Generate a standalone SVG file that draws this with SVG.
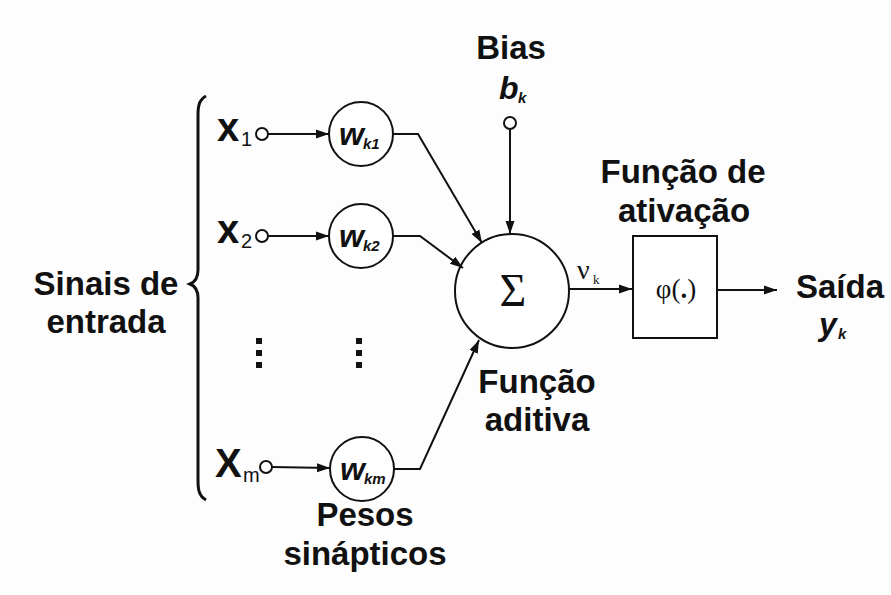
<svg xmlns="http://www.w3.org/2000/svg" width="891" height="595" viewBox="0 0 891 595">
<defs>
<marker id="arr" markerUnits="userSpaceOnUse" markerWidth="14" markerHeight="12" refX="13" refY="6" orient="auto">
<path d="M0,1.5 L13,6 L0,10.5 Z" fill="#111"/>
</marker>
<style>
.lbl{font-family:"Liberation Sans",Arial,sans-serif;font-weight:bold;font-size:33px;fill:#111;text-anchor:middle}
.var{font-family:"Liberation Sans",Arial,sans-serif;font-weight:bold;font-size:40px;fill:#111}
.sub{font-family:"Liberation Sans",Arial,sans-serif;font-size:20px;fill:#111}
.w{font-family:"Liberation Sans",Arial,sans-serif;font-weight:bold;font-style:italic;font-size:32px;fill:#111}
.wsub{font-family:"Liberation Sans",Arial,sans-serif;font-weight:bold;font-style:italic;font-size:15px;fill:#111}
.serif{font-family:"Liberation Serif","Times New Roman",serif;fill:#111}
.node{fill:#fff;stroke:#111;stroke-width:2}
.pin{fill:#fff;stroke:#111;stroke-width:2}
.conn{fill:none;stroke:#111;stroke-width:2}
.dot{fill:#111}
</style>
</defs>
<rect x="0" y="0" width="891" height="595" fill="#fdfdfd"/>

<g id="brace">
<path d="M206,96 C199,100 198,106 198,115 L198,270 C198,278 195,282 190,284 C195,286 198,290 198,298 L198,480 C198,490 199,496 206,500" fill="none" stroke="#111" stroke-width="3"/>
</g>

<g id="input-label">
<text class="lbl" x="106" y="295">Sinais de</text>
<text class="lbl" x="106" y="333">entrada</text>
</g>

<g id="x1">
<text class="var" x="217" y="141">x</text>
<text class="sub" x="241" y="146">1</text>
<circle class="pin" cx="262" cy="134" r="6"/>
</g>
<g id="x2">
<text class="var" x="217" y="243">x</text>
<text class="sub" x="241" y="248">2</text>
<circle class="pin" cx="262" cy="236" r="6"/>
</g>
<g id="xm">
<text class="var" x="215" y="477">X</text>
<text class="sub" x="243" y="482">m</text>
<circle class="pin" cx="266" cy="467" r="6"/>
</g>

<g id="dots">
<rect class="dot" x="256" y="338" width="6" height="6"/>
<rect class="dot" x="256" y="350" width="6" height="6"/>
<rect class="dot" x="256" y="362" width="6" height="6"/>
<rect class="dot" x="356" y="338" width="6" height="6"/>
<rect class="dot" x="356" y="350" width="6" height="6"/>
<rect class="dot" x="356" y="362" width="6" height="6"/>
</g>

<g id="wk1">
<circle class="node" cx="361" cy="134" r="32"/>
<text class="w" x="339" y="145">w</text>
<text class="wsub" x="363" y="149">k1</text>
</g>
<g id="wk2">
<circle class="node" cx="361" cy="236" r="32"/>
<text class="w" x="339" y="247">w</text>
<text class="wsub" x="363" y="251">k2</text>
</g>
<g id="wkm">
<circle class="node" cx="362" cy="469" r="32"/>
<text class="w" x="340" y="480">w</text>
<text class="wsub" x="364" y="484">km</text>
</g>

<g id="weights-label">
<text class="lbl" x="365" y="526" font-size="32">Pesos</text>
<text class="lbl" x="365" y="565" font-size="32">sinápticos</text>
</g>

<g id="bias">
<text class="lbl" x="511" y="59">Bias</text>
<text class="w" x="499" y="99">b</text>
<text class="wsub" x="518" y="103">k</text>
<circle class="pin" cx="510" cy="123" r="6"/>
</g>

<g id="sum">
<circle class="node" cx="512" cy="291" r="57"/>
<text class="serif" x="513" y="306" font-size="46" text-anchor="middle">Σ</text>
</g>

<g id="sum-label">
<text class="lbl" x="537" y="393">Função</text>
<text class="lbl" x="537" y="431">aditiva</text>
</g>

<g id="activation">
<rect class="node" x="633" y="236" width="84" height="102"/>
<text class="serif" x="676" y="298" font-size="27" text-anchor="middle">φ(<tspan font-weight="bold">.</tspan>)</text>
</g>

<g id="activation-label">
<text class="lbl" x="683" y="183">Função de</text>
<text class="lbl" x="684" y="222">ativação</text>
</g>

<g id="output">
<text class="lbl" x="840" y="298">Saída</text>
<text class="w" x="819" y="335">y</text>
<text class="wsub" x="838" y="339">k</text>
</g>

<g id="connectors">
<line class="conn" x1="268" y1="134" x2="329" y2="134" marker-end="url(#arr)"/>
<line class="conn" x1="268" y1="236" x2="329" y2="236" marker-end="url(#arr)"/>
<line class="conn" x1="272" y1="467" x2="330" y2="468" marker-end="url(#arr)"/>
<polyline class="conn" points="393,134 418,134 482,243" marker-end="url(#arr)"/>
<polyline class="conn" points="393,236 420,236 463,268" marker-end="url(#arr)"/>
<polyline class="conn" points="394,469 420,469 479,340" marker-end="url(#arr)"/>
<line class="conn" x1="510" y1="129" x2="510" y2="234" marker-end="url(#arr)"/>
<line class="conn" x1="569" y1="289" x2="632" y2="289" marker-end="url(#arr)"/>
<line class="conn" x1="717" y1="290" x2="777" y2="290" marker-end="url(#arr)"/>
<text class="serif" x="577" y="279" font-size="28">ν</text>
<text class="serif" x="593" y="284" font-size="13">k</text>
</g>
</svg>
